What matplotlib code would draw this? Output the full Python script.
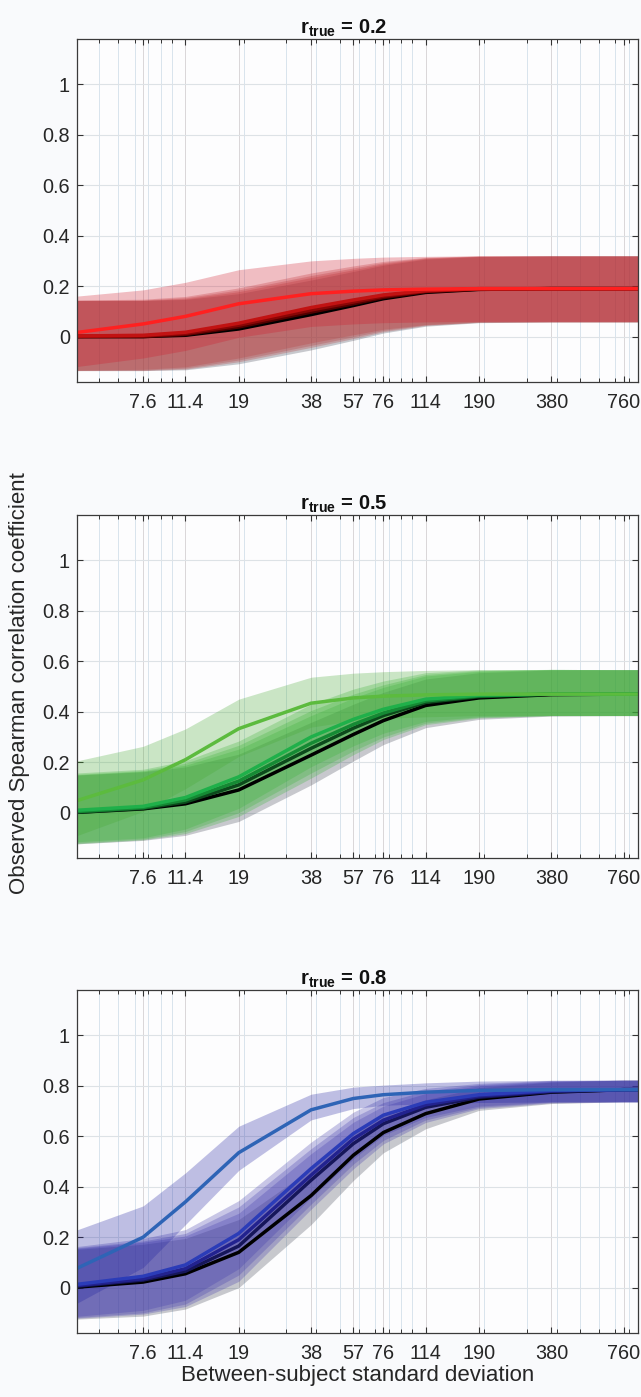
import matplotlib
matplotlib.use("Agg")
from matplotlib import pyplot as plt
from matplotlib.ticker import FixedLocator, NullFormatter, LogLocator
import numpy as np

plt.rcParams['font.family'] = ['Liberation Sans', 'DejaVu Sans']
plt.rcParams['mathtext.fontset'] = 'custom'
plt.rcParams['mathtext.bf'] = 'Liberation Sans:bold'
plt.rcParams['mathtext.rm'] = 'Liberation Sans'

# between-subject SD (x) - last point only carries the plateau to the right edge
x_sd = [3.8, 7.6, 11.4, 19, 38, 57, 76, 114, 190, 380, 760, 1140]
tick_vals = [7.6, 11.4, 19, 38, 57, 76, 114, 190, 380, 760]
tick_labels = ["7.6", "11.4", "19", "38", "57", "76", "114", "190", "380", "760"]
r_true = [0.2, 0.5, 0.8]

# r_true = 0.2
red_means = [
    [0.0, 0.0, 0.005, 0.03, 0.087, 0.123, 0.15, 0.175, 0.187, 0.19, 0.19, 0.19],
    [0.0, 0.0, 0.008, 0.038, 0.097, 0.13, 0.155, 0.178, 0.188, 0.19, 0.19, 0.19],
    [0.0, 0.002, 0.012, 0.045, 0.105, 0.137, 0.16, 0.18, 0.189, 0.19, 0.19, 0.19],
    [0.002, 0.005, 0.017, 0.053, 0.115, 0.145, 0.165, 0.182, 0.19, 0.19, 0.19, 0.19],
    [0.013, 0.05, 0.08, 0.13, 0.17, 0.18, 0.185, 0.188, 0.19, 0.19, 0.19, 0.19],
]
red_up = [0.143, 0.143, 0.142, 0.14, 0.137, 0.135, 0.133, 0.132, 0.13, 0.13, 0.13, 0.13]
red_dn = [0.135, 0.135, 0.137, 0.138, 0.14, 0.138, 0.136, 0.134, 0.132, 0.132, 0.132, 0.132]
red_top_up = [0.145, 0.135, 0.135, 0.135, 0.13, 0.13, 0.13, 0.13, 0.13, 0.13, 0.13, 0.13]
red_top_dn = [0.135, 0.135, 0.135, 0.133, 0.13, 0.13, 0.13, 0.13, 0.13, 0.13, 0.13, 0.13]

# r_true = 0.5
green_means = [
    [0.0, 0.015, 0.035, 0.09, 0.228, 0.31, 0.365, 0.425, 0.455, 0.468, 0.47, 0.47],
    [0.0, 0.017, 0.042, 0.11, 0.255, 0.335, 0.385, 0.437, 0.46, 0.47, 0.47, 0.47],
    [0.003, 0.02, 0.05, 0.125, 0.275, 0.35, 0.395, 0.443, 0.463, 0.47, 0.47, 0.47],
    [0.008, 0.025, 0.06, 0.142, 0.3, 0.37, 0.41, 0.45, 0.466, 0.47, 0.47, 0.47],
    [0.04, 0.13, 0.21, 0.333, 0.434, 0.455, 0.462, 0.467, 0.47, 0.47, 0.47, 0.47],
]
green_up = [0.148, 0.147, 0.146, 0.142, 0.13, 0.12, 0.112, 0.105, 0.1, 0.098, 0.097, 0.097]
green_dn = [0.125, 0.125, 0.125, 0.125, 0.118, 0.105, 0.095, 0.088, 0.085, 0.085, 0.085, 0.085]
green_top_up = [0.16, 0.133, 0.122, 0.117, 0.103, 0.098, 0.097, 0.097, 0.097, 0.097, 0.097, 0.097]
green_top_dn = [0.14, 0.125, 0.115, 0.11, 0.095, 0.09, 0.088, 0.087, 0.085, 0.085, 0.085, 0.085]

# r_true = 0.8
blue_means = [
    [0.0, 0.022, 0.055, 0.14, 0.365, 0.525, 0.615, 0.69, 0.748, 0.775, 0.785, 0.785],
    [0.003, 0.03, 0.065, 0.165, 0.426, 0.571, 0.65, 0.715, 0.755, 0.777, 0.785, 0.785],
    [0.006, 0.035, 0.075, 0.19, 0.446, 0.59, 0.664, 0.725, 0.76, 0.78, 0.785, 0.785],
    [0.01, 0.045, 0.09, 0.215, 0.472, 0.611, 0.684, 0.735, 0.765, 0.782, 0.785, 0.785],
    [0.065, 0.2, 0.34, 0.535, 0.705, 0.75, 0.765, 0.775, 0.782, 0.785, 0.785, 0.785],
]
blue_up = [0.15, 0.15, 0.14, 0.13, 0.105, 0.085, 0.07, 0.055, 0.045, 0.04, 0.038, 0.038]
blue_dn = [0.126, 0.135, 0.14, 0.14, 0.115, 0.1, 0.08, 0.06, 0.045, 0.045, 0.048, 0.048]
blue_top_up = [0.155, 0.124, 0.115, 0.105, 0.062, 0.045, 0.038, 0.037, 0.037, 0.037, 0.037, 0.037]
blue_top_dn = [0.14, 0.12, 0.09, 0.07, 0.04, 0.04, 0.042, 0.046, 0.048, 0.049, 0.049, 0.049]

gray_band = "#3c4150"
panels = [
    (red_means, red_up, red_dn, red_top_up, red_top_dn,
     ["#000000", "#520000", "#8a0606", "#c21212", "#ff2020"],
     [gray_band, "#b23838", "#b43838", "#b83838", "#d11729"]),
    (green_means, green_up, green_dn, green_top_up, green_top_dn,
     ["#000000", "#0c4a1c", "#158a34", "#1fb04a", "#5cbb3e"],
     [gray_band, "#38b337", "#38b337", "#38b337", "#46aa32"]),
    (blue_means, blue_up, blue_dn, blue_top_up, blue_top_dn,
     ["#000000", "#16165a", "#22228f", "#2b3cb8", "#2e64b6"],
     [gray_band, "#3f38ab", "#3f38ab", "#3f38ab", "#1e1ea0"]),
]

fig = plt.figure(figsize=(6.41, 13.97), dpi=100, facecolor="#f9fafc")
bottoms = [0.7266, 0.3858, 0.0458]
x = np.array(x_sd)

for i, (means, up, dn, top_up, top_dn, line_cols, band_cols) in enumerate(panels):
    ax = fig.add_axes([0.120, bottoms[i], 0.875, 0.2455], facecolor="#fdfdfe")
    ax.set_xscale("log")

    # shaded bands first, then the lines on top
    for k in range(5):
        m = np.array(means[k])
        if k == 4:
            hi, lo = m + np.array(top_up), m - np.array(top_dn)
        else:
            hi, lo = m + np.array(up), m - np.array(dn)
        ax.fill_between(x, lo, hi, color=band_cols[k], alpha=0.28, lw=0)
    for k in range(5):
        ax.plot(x, means[k], color=line_cols[k], lw=2.5, solid_joinstyle="miter")

    ax.set_xlim(4.03, 870)
    ax.set_ylim(-0.18, 1.18)
    ax.xaxis.set_major_locator(FixedLocator(tick_vals))
    ax.set_xticklabels(tick_labels)
    ax.xaxis.set_minor_locator(LogLocator(base=10, subs=np.arange(1, 10)))
    ax.xaxis.set_minor_formatter(NullFormatter())
    ax.set_yticks([0, 0.2, 0.4, 0.6, 0.8, 1.0])
    ax.set_yticklabels(["0", "0.2", "0.4", "0.6", "0.8", "1"])

    ax.grid(True, which="major", axis="x", color="#d9d6d8", lw=0.7)
    ax.grid(True, which="minor", axis="x", color="#d2e0ea", lw=0.6)
    ax.grid(True, which="major", axis="y", color="#dde2e6", lw=0.8)
    ax.set_axisbelow(True)

    ax.tick_params(which="both", direction="in", top=True, right=True,
                   color="#333333", labelcolor="#262626", labelsize=14.3)
    ax.tick_params(which="major", length=4, width=0.8, pad=8)
    ax.tick_params(which="minor", length=3, width=0.7)
    ax.tick_params(axis="y", pad=5)
    for s in ax.spines.values():
        s.set_color("#3a3a3a")
        s.set_linewidth(0.9)

    ax.set_title(r"$\mathbf{r_{true}}$ = " + str(r_true[i]), fontsize=14.5,
                 fontweight="bold", x=0.475, pad=3, color="#111111")

fig.text(0.030, 0.511, "Observed Spearman correlation coefficient", rotation=90,
         ha="center", va="center", fontsize=16, color="#262626")
fig.text(0.558, 0.008, "Between-subject standard deviation", ha="center",
         va="bottom", fontsize=16, color="#262626")

fig.savefig("out.png", dpi=100, facecolor=fig.get_facecolor())
